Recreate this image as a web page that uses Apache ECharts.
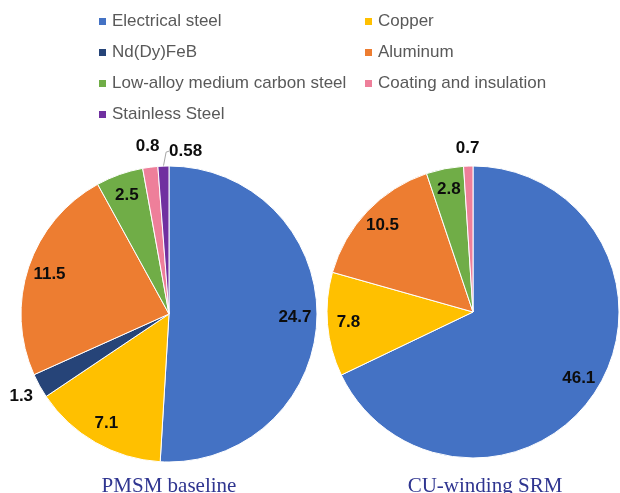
<!DOCTYPE html>
<html>
<head>
<meta charset="utf-8">
<script src="https://cdn.jsdelivr.net/npm/echarts@6/dist/echarts.min.js"></script>
<style>html,body{margin:0;padding:0;background:#fff}#c{width:620px;height:493px}</style>
</head>
<body>
<div id="c"></div>
<script>
const materials = ['Electrical steel', 'Copper', 'Nd(Dy)FeB', 'Aluminum', 'Low-alloy medium carbon steel', 'Coating and insulation', 'Stainless Steel'];
const materialColors = ['#4472C4', '#FFC000', '#264478', '#ED7D31', '#70AD47', '#EE7F9A', '#7030A0'];
const pmsmValues = [24.7, 7.1, 1.3, 11.5, 2.5, 0.8, 0.58];
const srmValues = [46.1, 7.8, 0, 10.5, 2.8, 0.7, 0];
const chartTitles = ['PMSM baseline', 'CU-winding SRM'];
const legendLeftColumn = ['Electrical steel', 'Nd(Dy)FeB', 'Low-alloy medium carbon steel', 'Stainless Steel'];
const legendRightColumn = ['Copper', 'Aluminum', 'Coating and insulation'];
const leaderLabels = ['Stainless Steel'];

const chart = echarts.init(document.getElementById('c'), null, {renderer: 'canvas'});

const labelFont = {fontFamily: 'Liberation Sans', fontWeight: 'bold', fontSize: 17, color: '#0D0D0D'};
const smallShare = 0.03;

function buildPie(values, center, radius, insideR, outsideR) {
  const total = values.reduce((a, b) => a + b, 0);
  const items = [];
  materials.forEach((n, i) => { if (values[i] > 0) items.push({name: n, value: values[i], color: materialColors[i]}); });
  const real = {
    type: 'pie', center: center, radius: radius, startAngle: 90, clockwise: true,
    silent: true, animation: false, avoidLabelOverlap: false,
    itemStyle: {borderColor: '#fff', borderWidth: 1},
    label: {show: false},
    labelLine: {show: false},
    data: items.map(d => {
      const lead = leaderLabels.indexOf(d.name) >= 0 && d.value / total < smallShare;
      return {
        name: d.name, value: d.value, itemStyle: {color: d.color},
        label: lead ? Object.assign({show: true, position: 'outside', formatter: '{c}'}, labelFont) : {show: false},
        labelLine: lead ? {show: true, length: 9, length2: 0, lineStyle: {color: '#A6A6A6', width: 1}} : {show: false}
      };
    }),
    labelLayout: function (p) {
      if (!p.labelLinePoints) return;
      const a = p.labelLinePoints[0], b = p.labelLinePoints[1];
      return {
        x: b[0] + 6, y: b[1] - 6, align: 'left', verticalAlign: 'middle',
        labelLinePoints: [a, [b[0] + 3, b[1] - 5], [b[0] + 6, b[1] - 6]]
      };
    }
  };
  const overlay = (R, inside) => ({
    type: 'pie', center: center, radius: R, startAngle: 90, clockwise: true,
    silent: true, animation: false, avoidLabelOverlap: false,
    itemStyle: {color: 'rgba(0,0,0,0)', borderWidth: 0},
    labelLine: {show: false},
    data: items.map(d => {
      const isSmall = d.value / total < smallShare;
      const lead = leaderLabels.indexOf(d.name) >= 0;
      const show = inside ? !isSmall : (isSmall && !lead);
      return {name: d.name, value: d.value,
        label: Object.assign({show: show, position: 'inside', rotate: 0, formatter: '{c}'}, labelFont)};
    })
  });
  return [real, overlay(insideR, true), overlay(outsideR, false)];
}

const legendBase = {
  orient: 'vertical', icon: 'rect', itemWidth: 9, itemHeight: 9, itemGap: 14,
  padding: 0,
  textStyle: {fontFamily: 'Liberation Sans', fontSize: 17, color: '#595959'},
  selectedMode: false, top: 13
};

chart.setOption({
  backgroundColor: '#fff',
  animation: false,
  title: [
    {text: chartTitles[0], left: 164, top: 471, textAlign: 'center',
      textStyle: {fontFamily: 'Liberation Serif', fontWeight: 'normal', fontSize: 21, color: '#2F3590'}},
    {text: chartTitles[1], left: 480, top: 471, textAlign: 'center',
      textStyle: {fontFamily: 'Liberation Serif', fontWeight: 'normal', fontSize: 21, color: '#2F3590'}}
  ],
  legend: [
    Object.assign({}, legendBase, {left: 97, data: legendLeftColumn}),
    Object.assign({}, legendBase, {left: 363, data: legendRightColumn})
  ],
  series: [].concat(
    buildPie(pmsmValues, [169, 314], 148, 246, 332),
    buildPie(srmValues, [473, 312], 146, 244, 322)
  )
});
</script>
</body>
</html>
